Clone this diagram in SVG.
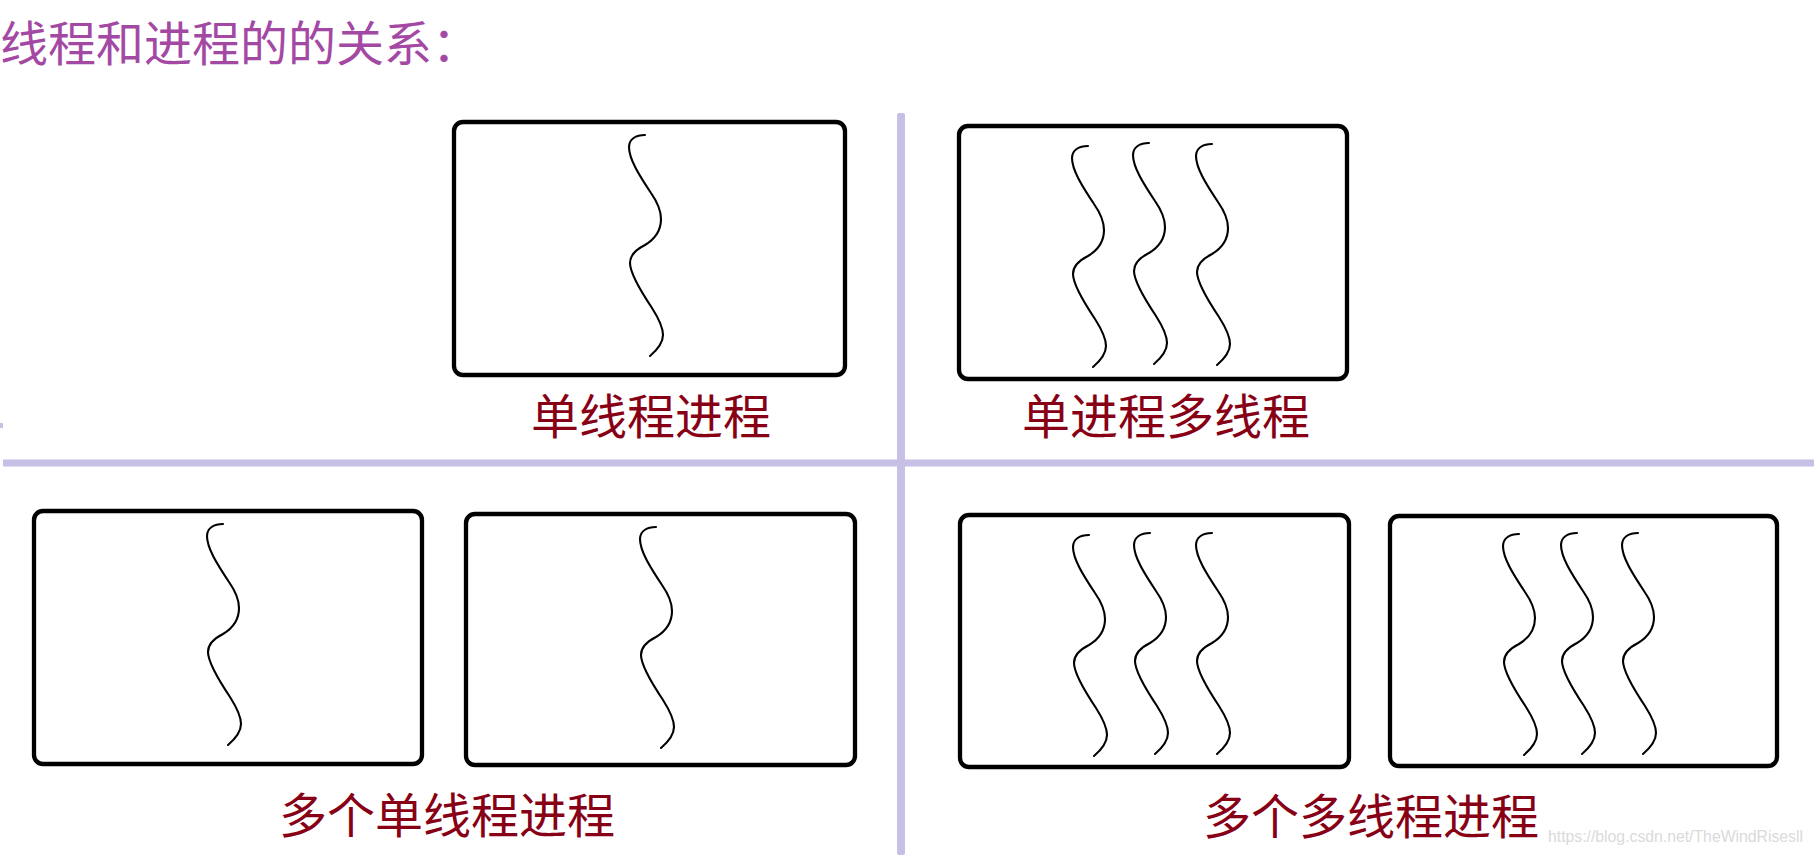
<svg xmlns="http://www.w3.org/2000/svg" xmlns:xlink="http://www.w3.org/1999/xlink" width="1814" height="855" viewBox="0 0 1814 855">
  <style>
    .box { fill: #ffffff; stroke: #000000; stroke-width: 4.3; }
    .thread { fill: none; stroke: #000000; stroke-width: 2.1; stroke-linecap: round; }
    .label { font-family: "Noto Sans CJK SC", "Microsoft YaHei", sans-serif; font-size: 48px; fill: #880015; text-anchor: middle; }
    .title { font-family: "Noto Sans CJK SC", "Microsoft YaHei", sans-serif; font-size: 48px; fill: #a349a4; }
    .divider { fill: #c8bfe7; }
    .wm { font-family: "Liberation Sans", Arial, sans-serif; font-size: 16px; fill: #dadada; }
  </style>
  <defs>
    <path id="t" class="thread" d="M0,0 C-9,0 -16,4 -16,12 C-16,24 -6,40 6,58 C13,68 16,75 16,84 C16,96 10,104 0,110 C-10,115 -15,120 -15,128 C-15,138 -5,155 7,173 C14,184 18,192 18,200 C18,208 12,215 5,221"/>
  </defs>
  <rect width="1814" height="855" fill="#ffffff"/>

  <text id="title" class="title" x="0" y="61">线程和进程的的关系：</text>

  <g id="dividers">
    <rect class="divider" x="897" y="113" width="8" height="742" rx="2"/>
    <rect class="divider" x="3" y="459.5" width="1811" height="7"/>
    <rect class="divider" x="0" y="423" width="3" height="5"/>
  </g>

  <g id="single-thread-process">
    <rect class="box" x="454" y="122" width="391" height="253" rx="9"/>
    <use xlink:href="#t" x="645" y="135"/>
    <text class="label" x="651" y="434">单线程进程</text>
  </g>

  <g id="single-process-multi-thread">
    <rect class="box" x="959" y="126" width="388" height="253" rx="9"/>
    <use xlink:href="#t" x="1088" y="146"/>
    <use xlink:href="#t" x="1149" y="143"/>
    <use xlink:href="#t" x="1212" y="144"/>
    <text class="label" x="1166" y="434">单进程多线程</text>
  </g>

  <g id="multi-single-thread-processes">
    <rect class="box" x="34" y="511" width="388" height="253" rx="9"/>
    <use xlink:href="#t" x="223" y="524"/>
    <rect class="box" x="466" y="514" width="389" height="251" rx="9"/>
    <use xlink:href="#t" x="656" y="527"/>
    <text class="label" x="447" y="833">多个单线程进程</text>
  </g>

  <g id="multi-multi-thread-processes">
    <rect class="box" x="960" y="515" width="389" height="252" rx="9"/>
    <use xlink:href="#t" x="1089" y="535"/>
    <use xlink:href="#t" x="1150" y="533"/>
    <use xlink:href="#t" x="1212" y="533"/>
    <rect class="box" x="1390" y="516" width="387" height="250" rx="9"/>
    <use xlink:href="#t" x="1519" y="534"/>
    <use xlink:href="#t" x="1577" y="533"/>
    <use xlink:href="#t" x="1638" y="533"/>
    <text class="label" x="1371" y="834">多个多线程进程</text>
  </g>

  <text id="watermark" class="wm" x="1548" y="842" textLength="255" lengthAdjust="spacingAndGlyphs">https://blog.csdn.net/TheWindRisesll</text>
</svg>
